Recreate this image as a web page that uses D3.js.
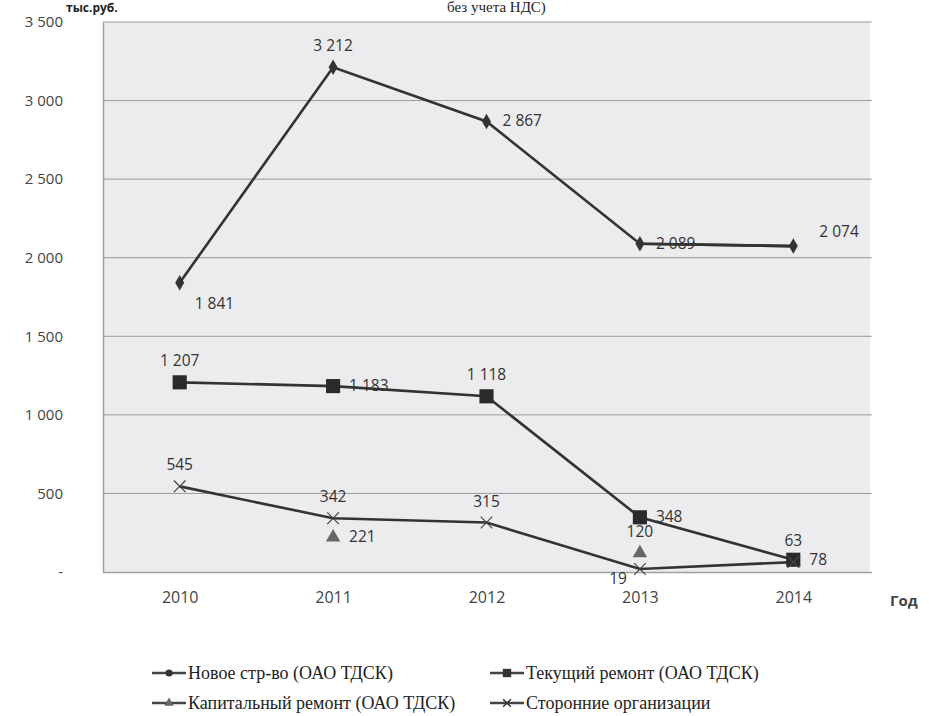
<!DOCTYPE html>
<html>
<head>
<meta charset="utf-8">
<script src="https://cdn.jsdelivr.net/npm/d3@7"></script>
<style>
  body { margin: 0; background: #fff; }
  svg { display: block; }
  .tick text { font-family: "Open Sans", "DejaVu Sans", sans-serif; }
</style>
</head>
<body>
<script>
// данные графика
var years = ['2010', '2011', '2012', '2013', '2014'];
var novoeStroy = [1841, 3212, 2867, 2089, 2074];
var tekRemont = [1207, 1183, 1118, 348, 78];
var kapRemont = [null, 221, null, 120, null];
var storonnie = [545, 342, 315, 19, 63];
var yTicks = [0, 500, 1000, 1500, 2000, 2500, 3000, 3500];
var seriesNames = ['Новое стр-во (ОАО ТДСК)', 'Текущий ремонт (ОАО ТДСК)',
                   'Капитальный ремонт (ОАО ТДСК)', 'Сторонние организации'];

// где стоят подписи точек (как в Excel)
var novoePos = ['br', 'top', 'right', 'right', 'tr'];
var tekPos = ['top', 'right', 'top', 'right', 'right'];
var kapPos = [null, 'right', null, 'top', null];
var storPos = ['top', 'top', 'top', 'bl', 'top'];

var width = 929, height = 716;
var margin = {top: 22, right: 59, bottom: 144, left: 103};
var serif = "'Liberation Serif', 'Times New Roman', 'DejaVu Serif', serif";
var sans = "'Open Sans', 'DejaVu Sans', sans-serif";

var svg = d3.select("body").append("svg")
    .attr("width", width)
    .attr("height", height);

var x = d3.scalePoint()
    .domain(years)
    .range([margin.left, width - margin.right])
    .padding(0.5);

var y = d3.scaleLinear()
    .domain([0, 3500])
    .range([height - margin.bottom, margin.top]);

var loc = d3.formatLocale({decimal: ",", thousands: "\u00a0", grouping: [3], currency: ["", ""]});
var fmt = loc.format(",d");

// фон области построения
svg.append("rect")
    .attr("x", margin.left)
    .attr("y", margin.top)
    .attr("width", width - margin.left - margin.right)
    .attr("height", height - margin.top - margin.bottom)
    .attr("fill", "#ececef");

// сетка
svg.append("g")
  .selectAll("line")
  .data(yTicks.slice(1))
  .enter().append("line")
    .attr("x1", margin.left)
    .attr("x2", width - margin.right + 2)
    .attr("y1", function(d) { return y(d); })
    .attr("y2", function(d) { return y(d); })
    .attr("stroke", "#9a9a9a")
    .attr("stroke-width", 1);

// ось Y
var yAxis = svg.append("g")
    .attr("transform", "translate(" + margin.left + ",0)")
    .call(d3.axisLeft(y).tickValues(yTicks).tickSize(0).tickPadding(40)
      .tickFormat(function(d) { return d === 0 ? "-" : fmt(d); }));
yAxis.select(".domain").attr("stroke", "#a0a0a0").attr("stroke-width", 1.5);
yAxis.selectAll("text").attr("font-size", 15).attr("fill", "#444");

// ось X
var xAxis = svg.append("g")
    .attr("transform", "translate(0," + y(0) + ")")
    .call(d3.axisBottom(x).tickSize(0).tickPadding(20));
xAxis.select(".domain").attr("stroke", "#a0a0a0").attr("stroke-width", 1.5)
    .attr("d", "M" + margin.left + ",0.5H" + (width - margin.right + 2));
xAxis.selectAll("text").attr("font-size", 16).attr("fill", "#444");

svg.append("text")
    .attr("x", 890)
    .attr("y", y(0) + 34)
    .attr("font-family", sans)
    .attr("font-size", 15)
    .attr("font-weight", "bold")
    .attr("fill", "#444")
    .text("Год");

// заголовки сверху (в оригинале обрезаны краем)
svg.append("text")
    .attr("x", 66)
    .attr("y", 12)
    .attr("font-family", sans)
    .attr("font-size", 12)
    .attr("font-weight", "bold")
    .attr("fill", "#222")
    .text("тыс.руб.");
svg.append("text")
    .attr("x", 447)
    .attr("y", 12)
    .attr("font-family", serif)
    .attr("font-size", 15)
    .attr("fill", "#222")
    .text("без учета НДС)");

var lineColor = "#333";
var line = d3.line()
    .defined(function(d) { return d != null; })
    .x(function(d, i) { return x(years[i]); })
    .y(function(d) { return y(d); });

var series = [
  {vals: novoeStroy, pos: novoePos, marker: d3.symbolDiamond, size: 70, fill: "#333"},
  {vals: tekRemont, pos: tekPos, marker: d3.symbolSquare, size: 200, fill: "#2a2a2a"},
  {vals: kapRemont, pos: kapPos, marker: d3.symbolTriangle, size: 90, fill: "#666"},
  {vals: storonnie, pos: storPos, marker: d3.symbolX, size: 90, fill: "none"}
];

series.forEach(function(s) {
  svg.append("path")
      .attr("d", line(s.vals))
      .attr("fill", "none")
      .attr("stroke", lineColor)
      .attr("stroke-width", 2.6);
});

function labelOffset(p) {
  if (p === 'top') return [0, -16, 'middle'];
  if (p === 'right') return [16, 5, 'start'];
  if (p === 'tr') return [26, -9, 'start'];
  if (p === 'br') return [15, 26, 'start'];
  if (p === 'bl') return [-13, 15, 'end'];
  return [0, 0, 'middle'];
}

series.forEach(function(s) {
  var g = svg.append("g");
  s.vals.forEach(function(v, i) {
    if (v == null) return;
    var px = x(years[i]), py = y(v);
    var sym = g.append("path")
        .attr("transform", "translate(" + px + "," + py + ")")
        .attr("d", d3.symbol().type(s.marker).size(s.size)());
    if (s.fill === "none") {
      sym.attr("fill", "none").attr("stroke", "#444").attr("stroke-width", 1.2);
    } else {
      sym.attr("fill", s.fill);
    }
    var o = labelOffset(s.pos[i]);
    g.append("text")
        .attr("x", px + o[0])
        .attr("y", py + o[1])
        .attr("text-anchor", o[2])
        .attr("font-family", sans)
        .attr("font-size", 15.5)
        .attr("fill", "#333")
        .text(fmt(v));
  });
});

// линия новой стройки поверх подписи 2013 (как на оригинале)
svg.append("path")
    .attr("d", line(novoeStroy.map(function(d, i) { return i >= 3 ? d : null; })))
    .attr("fill", "none")
    .attr("stroke", lineColor)
    .attr("stroke-width", 2.6);

// легенда
var legendItems = [
  {name: seriesNames[0], marker: d3.symbolCircle, size: 40, fill: "#333", lx: 152, ly: 673},
  {name: seriesNames[1], marker: d3.symbolSquare, size: 70, fill: "#333", lx: 490, ly: 673},
  {name: seriesNames[2], marker: d3.symbolTriangle, size: 40, fill: "#666", lx: 152, ly: 703},
  {name: seriesNames[3], marker: d3.symbolX, size: 40, fill: "none", lx: 490, ly: 703}
];
var legend = svg.append("g");
legendItems.forEach(function(d) {
  legend.append("line")
      .attr("x1", d.lx).attr("x2", d.lx + 34)
      .attr("y1", d.ly).attr("y2", d.ly)
      .attr("stroke", "#444").attr("stroke-width", 2.5);
  var m = legend.append("path")
      .attr("transform", "translate(" + (d.lx + 17) + "," + d.ly + ")")
      .attr("d", d3.symbol().type(d.marker).size(d.size)());
  if (d.fill === "none") m.attr("fill", "none").attr("stroke", "#333").attr("stroke-width", 1.5);
  else m.attr("fill", d.fill);
  legend.append("text")
      .attr("x", d.lx + 36)
      .attr("y", d.ly + 6)
      .attr("font-family", serif)
      .attr("font-size", 18)
      .attr("fill", "#222")
      .text(d.name);
});
</script>
</body>
</html>
